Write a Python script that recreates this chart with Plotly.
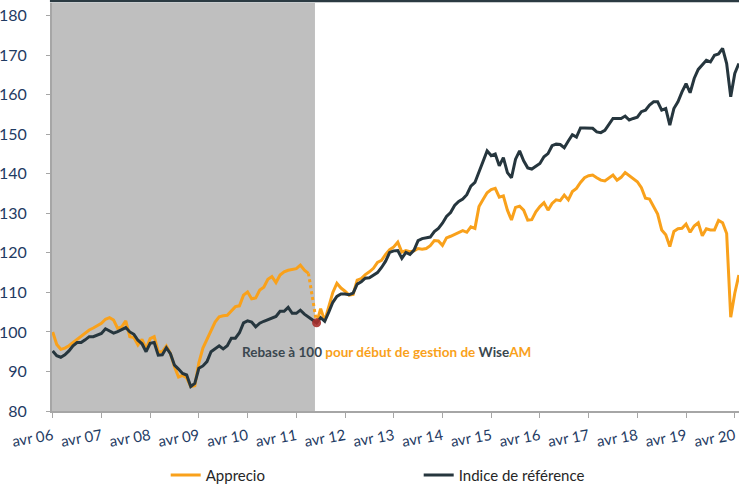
import plotly.graph_objects as go

# ---------------- data ----------------
MONTHS_FR = ["janv", "févr", "mars", "avr", "mai", "juin",
             "juil", "août", "sept", "oct", "nov", "déc"]
START_YEAR = 2006
START_MONTH = 3          # index of "avr"
N_MONTHS = 170           # avr 06 .. mai 20

categories = []
for i in range(N_MONTHS):
    mo = (START_MONTH + i) % 12
    yr = START_YEAR + (START_MONTH + i) // 12
    categories.append(f"{MONTHS_FR[mo]} {yr % 100:02d}")

tick_labels = ["avr 06", "avr 07", "avr 08", "avr 09", "avr 10", "avr 11", "avr 12",
               "avr 13", "avr 14", "avr 15", "avr 16", "avr 17", "avr 18", "avr 19", "avr 20"]

y_ticks = [80, 90, 100, 110, 120, 130, 140, 150, 160, 170, 180]

apprecio = [
    100.0, 96.8, 95.6, 95.9, 96.5, 97.3, 98.1, 98.8, 99.6, 100.5,
    101.0, 101.5, 102.2, 103.2, 103.6, 103.0, 100.9, 101.3, 102.8, 98.8,
    98.6, 96.7, 98.1, 95.7, 98.3, 98.8, 95.0, 95.0, 96.4, 94.5,
    91.2, 88.6, 89.0, 88.4, 86.2, 86.4, 92.2, 95.9, 98.0, 100.5,
    102.5, 103.8, 104.1, 104.2, 105.2, 106.4, 106.6, 109.3, 110.1, 108.4,
    108.6, 110.6, 111.3, 113.3, 114.0, 112.5, 114.4, 115.2, 115.6, 115.8,
    116.0, 116.9, 115.6, 114.8, None, 102.3, 105.9, 102.8, 106.5, 110.0,
    112.3, 111.1, 110.3, 109.3, 109.5, 113.1, 113.5, 114.5, 115.2, 116.1,
    117.6, 118.1, 119.6, 120.8, 121.5, 122.7, 120.2, 120.6, 120.3, 120.5,
    121.1, 120.9, 121.1, 121.8, 123.1, 123.0, 121.9, 123.8, 124.2, 124.6,
    125.1, 125.6, 125.2, 126.6, 126.2, 131.7, 133.5, 135.2, 136.0, 136.3,
    134.1, 134.4, 130.8, 128.3, 131.5, 131.8, 130.8, 128.3, 128.4, 130.4,
    131.7, 132.7, 130.8, 132.5, 133.4, 133.2, 134.6, 133.4, 135.5, 136.3,
    137.8, 139.0, 139.5, 139.7, 139.0, 138.4, 138.2, 138.9, 139.7, 138.4,
    139.1, 140.3, 139.5, 138.8, 138.0, 136.5, 133.8, 133.6, 131.5, 129.8,
    125.8, 124.6, 121.6, 125.4, 126.1, 126.2, 127.3, 125.2, 126.8, 127.6,
    124.3, 126.1, 125.8, 125.8, 128.2, 127.6, 124.9, 103.7, 109.8, 114.4,
]

indice = [
    95.2, 94.0, 93.6, 94.2, 95.2, 96.5, 97.3, 97.3, 98.0, 98.8,
    98.8, 99.2, 99.6, 100.8, 100.3, 99.7, 100.1, 100.6, 101.1, 100.0,
    99.4, 97.9, 97.0, 95.0, 97.1, 97.3, 94.1, 94.2, 96.0, 94.5,
    91.6, 90.6, 89.5, 89.1, 86.2, 87.0, 90.8, 91.4, 92.5, 95.0,
    95.8, 96.5, 95.7, 96.5, 98.4, 98.4, 99.8, 102.3, 102.8, 102.5,
    101.3, 102.2, 102.7, 103.1, 103.3, 103.9, 105.2, 105.2, 106.2, 104.7,
    104.7, 105.5, 104.5, 103.8, 103.0, 102.3, 103.6, 102.7, 105.0, 107.5,
    109.0, 109.6, 109.6, 109.4, 109.8, 112.1, 112.7, 113.6, 113.7, 114.3,
    115.0, 116.3, 117.9, 120.1, 120.5, 120.6, 118.6, 120.1, 119.6, 120.7,
    123.1, 123.6, 123.8, 124.0, 125.4, 126.2, 127.5, 129.2, 130.2, 132.0,
    133.0, 133.6, 134.7, 136.9, 137.8, 140.5, 143.3, 145.8, 144.6, 145.0,
    142.0, 144.1, 140.3, 139.0, 143.7, 145.8, 143.3, 141.5, 141.2, 142.0,
    142.6, 144.3, 145.1, 147.1, 147.5, 147.4, 146.6, 148.3, 149.9, 149.3,
    151.6, 151.6, 151.6, 151.5, 150.6, 150.4, 151.0, 152.5, 154.0, 154.0,
    154.0, 154.6, 153.6, 154.0, 154.3, 155.7, 156.1, 157.4, 158.2, 158.2,
    156.1, 156.5, 152.3, 156.5, 158.2, 160.7, 162.8, 160.5, 164.1, 166.4,
    167.5, 168.7, 168.3, 170.0, 170.3, 171.7, 167.9, 159.5, 165.4, 167.9,
]

REBASE_IDX = 65          # "sept 11": start of WiseAM management
BRIDGE_FROM = 63         # last point before the dotted rebase jump

# ---------------- styles ----------------
ORANGE = "#F9A11B"
DARK = "#26363E"
SHADE = "#BFBFBF"
AXIS_GREY = "#A6A6A6"
TICK_BLUE = "#1F3B63"
FONT = "Lato, 'Noto Sans', Arial, sans-serif"

fig = go.Figure()

# shaded pre-management period
fig.add_shape(type="rect", xref="x", yref="paper",
              x0=-0.5, x1=REBASE_IDX - 0.4, y0=0, y1=1,
              fillcolor=SHADE, line_width=0, layer="below")

fig.add_trace(go.Scatter(
    x=categories, y=apprecio, mode="lines", name="Apprecio",
    line=dict(color=ORANGE, width=3), connectgaps=False))

# dotted rebase bridge
fig.add_trace(go.Scatter(
    x=[categories[BRIDGE_FROM], categories[REBASE_IDX]],
    y=[apprecio[BRIDGE_FROM], apprecio[REBASE_IDX]],
    mode="lines", showlegend=False, hoverinfo="skip",
    line=dict(color=ORANGE, width=3, dash="dot")))

fig.add_trace(go.Scatter(
    x=categories, y=indice, mode="lines", name="Indice de référence",
    line=dict(color=DARK, width=3)))

# rebase marker
fig.add_trace(go.Scatter(
    x=[categories[REBASE_IDX]], y=[indice[REBASE_IDX]],
    mode="markers", showlegend=False,
    marker=dict(color="#A8302C", size=9, opacity=0.9)))

fig.add_annotation(
    x=46.1, y=94.9, xref="x", yref="y", xanchor="left", yanchor="middle",
    showarrow=False,
    text=("<b>Rebase à 100 <span style='color:%s'>pour début de gestion de </span>"
          "Wise<span style='color:%s'>AM</span></b>") % (ORANGE, ORANGE),
    font=dict(family=FONT, size=13.5, color="#3A474F"))

# dark top rule
fig.add_shape(type="line", xref="paper", yref="paper",
              x0=-0.003, x1=1, y0=1.0049, y1=1.0049,
              line=dict(color="#2B3A42", width=2.5))

fig.update_layout(
    width=739, height=484,
    margin=dict(l=52, r=0, t=3, b=73, autoexpand=False),
    paper_bgcolor="white", plot_bgcolor="white",
    font=dict(family=FONT, size=15, color=TICK_BLUE),
    showlegend=True,
    legend=dict(orientation="h", x=0.1655, xanchor="left",
                y=-0.117, yanchor="top",
                font=dict(family=FONT, size=15, color="#262626"),
                itemwidth=30, entrywidth=208, entrywidthmode="pixels",
                bgcolor="rgba(0,0,0,0)"),
    xaxis=dict(type="category", range=[-0.17, 169.04], automargin=False,
               tickmode="array", tickvals=tick_labels, ticktext=tick_labels,
               tickangle=-10, ticks="outside", ticklen=5, tickcolor=AXIS_GREY,
               showline=True, linecolor=AXIS_GREY, linewidth=1.5,
               showgrid=False, zeroline=False, ticklabelstandoff=4,
               tickfont=dict(family=FONT, size=15, color=TICK_BLUE)),
    yaxis=dict(range=[80, 183.2], tickmode="array", tickvals=y_ticks, automargin=False,
               ticks="outside", ticklen=4, tickcolor=AXIS_GREY,
               showline=True, linecolor=AXIS_GREY, linewidth=2,
               showgrid=False, zeroline=False, ticklabelstandoff=16,
               tickfont=dict(family=FONT, size=16, color=TICK_BLUE)),
)

# remove the browser's default 8px body margin so the figure sits at the page origin
fig.write_html("out.html", config={"displayModeBar": False},
               post_script="document.body.style.margin='0';")
